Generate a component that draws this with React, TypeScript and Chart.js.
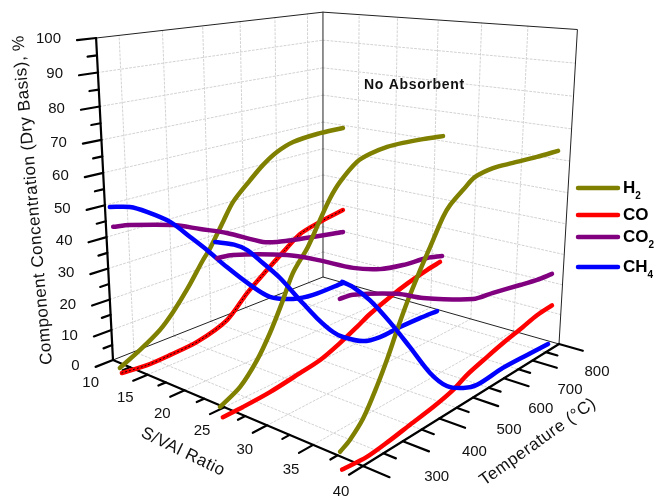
import React, { useEffect, useRef } from "react";
import { Chart, registerables } from "chart.js";
Chart.register(...registerables);

// Readings from the picture: [temperature °C, concentration %]
const S_PLANES = [12.5, 25, 38.5];
const h2Low = [[227,1.1],[275,4.3],[324,8.3],[358,12.6],[397,18.8],[438,26.4],[457,29.5],[494,37.2],[522,42.8],[570,48.5],[608,52.6],[649,55.8],[698,57.9],[773,58.7],[859,58.6]];
const h2Mid = [[240,0.7],[288,3.9],[330,9.7],[363,16.3],[394,24.0],[423,31.9],[463,38.3],[496,45.4],[523,51.0],[551,55.2],[600,60.0],[639,61.4],[691,62.1],[741,62.0],[808,61.4],[878,60.5]];
const h2High = [[232,3.4],[255,5.1],[287,9.0],[320,15.8],[347,22.4],[370,28.8],[397,35.7],[428,42.6],[454,47.9],[488,54.9],[507,57.5],[544,60.5],[579,63.0],[634,63.8],[699,63.3],[782,62.6],[860,62.2]];
const coLow = [[231,-0.8],[290,-1.6],[346,-1.4],[416,-0.7],[498,2.7],[556,9.5],[615,15.1],[670,20.0],[718,24.0],[782,26.0],[860,27.6]];
const coMid = [[246,-2.8],[294,-2.7],[361,-2.2],[440,-0.8],[496,0.3],[553,2.8],[604,5.6],[644,8.0],[708,10.8],[767,12.9],[833,14.6],[880,15.5]];
const coHigh = [[237,-1.9],[297,-2.6],[356,-1.9],[410,-0.9],[474,0.2],[533,1.8],[576,4.0],[640,6.0],[693,7.5],[762,9.1],[813,10.4],[870,10.9]];
const co2Low = [[228,45.7],[265,44.8],[366,40.9],[433,37.0],[503,32.9],[604,25.7],[646,24.0],[717,22.2],[840,19.5],[861,19.1]];
const co2Mid = [[242,44.3],[278,43.7],[408,38.1],[488,33.2],[591,26.1],[674,22.0],[749,20.1],[832,19.0],[887,17.4]];
const co2High = [[230,44.1],[260,43.7],[368,38.8],[438,34.3],[586,26.8],[651,25.6],[744,23.7],[806,22.5],[863,21.9]];
const ch4Low = [[223,51.9],[267,50.3],[305,47.4],[359,42.2],[407,35.4],[449,29.3],[501,21.2],[565,12.0],[623,4.9],[694,0.7],[759,-0.9],[862,-1.0]];
const ch4Mid = [[239,49.0],[281,46.5],[311,43.7],[348,38.3],[390,31.9],[441,22.7],[487,14.6],[533,7.6],[562,4.4],[623,-0.3],[677,-1.8],[743,-1.7],[812,-2.0],[874,-2.5]];
const ch4High = [[235,48.2],[260,45.7],[300,40.4],[351,31.9],[405,22.0],[463,11.2],[514,4.2],[565,0.5],[610,-1.2],[696,-0.8],[783,-1.4],[863,-2.1]];

const OL = "#808000", RD = "#ff0000", PU = "#800080", BL = "#0000ff";
const tLabels = [300,400,500,600,700,800];
const sLabels = [10,15,20,25,30,35,40];
const cLabels = [0,10,20,30,40,50,60,70,80,90,100];
const LEGEND: [string,string,string,number][] = [["H","2",OL,188],["CO","",RD,215],["CO","2",PU,237],["CH","4",BL,267]];

// Perspective camera of the 3D box (canvas pixels of the corners)
const A=[113,360],F=[363,466],R=[559,344],B=[323,277],V=[323.5,4366],AT=[95,38];
const dx1=F[0]-R[0],dy1=F[1]-R[1],dx2=B[0]-R[0],dy2=B[1]-R[1],dx3=A[0]-F[0]+R[0]-B[0],dy3=A[1]-F[1]+R[1]-B[1];
const den=dx1*dy2-dx2*dy1;
const g=(dx3*dy2-dx2*dy3)/den,h=(dx1*dy3-dx3*dy1)/den;
const a=F[0]-A[0]+g*F[0],b=B[0]-A[0]+h*B[0],c0=A[0],d=F[1]-A[1]+g*F[1],e=B[1]-A[1]+h*B[1],f0=A[1];
const fr=(AT[1]-A[1])/(V[1]-A[1]);const al=fr/(1-fr);
function proj(s:number,t:number,c:number){const u=(s-10)/30,v=(t-250)/600,z=c/100;const W=g*u+h*v+1+al*z;
 return {x:(a*u+b*v+c0+al*V[0]*z)/W,y:(d*u+e*v+f0+al*V[1]*z)/W};}
const GAP={x:NaN,y:NaN};
function segs(list:number[][][]){const o:any[]=[];list.forEach(l=>{l.forEach(p=>o.push(proj(p[0],p[1],p[2])));o.push(GAP)});return o;}
const curve=(s:number,pts:number[][])=>pts.map(p=>proj(s,p[0],p[1]));

const gridL:number[][][]=[];
[300,400,500,600,700,800].forEach(t=>{gridL.push([[10,t,0],[10,t,100]]);gridL.push([[10,t,0],[40,t,0]])});
[15,20,25,30,35].forEach(s=>{gridL.push([[s,850,0],[s,850,100]]);gridL.push([[s,250,0],[s,850,0]])});
[10,20,30,40,50,60,70,80,90].forEach(c=>{gridL.push([[10,250,c],[10,850,c]]);gridL.push([[10,850,c],[40,850,c]])});
const frame=[[[10,250,100],[10,850,100],[40,850,100],[40,850,0],[10,850,0],[10,250,0]],[[10,850,0],[10,850,100]]];
const axes=[[[10,250,0],[10,250,100]],[[10,250,0],[40,250,0]],[[40,250,0],[40,850,0]]];
const ticks:number[][][]=[];
for(let i=0;i<=20;i++){const c=i*5;ticks.push([[10,250,c],[10,i%2?230:210,c]])}
for(let i=0;i<=12;i++){const s=10+i*2.5;ticks.push([[s,250,0],[s,i%2?233:217,0]])}
for(let i=0;i<=12;i++){const t=250+i*50;ticks.push([[40,t,0],[i%2?41.2:42.5,t,0]])}

function App(){const ref=useRef<HTMLCanvasElement>(null);
useEffect(()=>{
 const ds:any[]=[];
 const add=(data:any[],col:string,w:number,dash?:number[],tension=0)=>ds.push({data,showLine:true,pointRadius:0,borderColor:col,borderWidth:w,borderDash:dash||[],spanGaps:false,tension,borderCapStyle:"round",borderJoinStyle:"round"});
 add(segs(gridL),"#d2d2d2",1,[2,2]);add(segs(frame),"#222",1);add(segs(axes),"#000",2.2);add(segs(ticks),"#000",2.2);
 const group=[[h2Low,coLow,co2Low,ch4Low],[h2Mid,coMid,co2Mid,ch4Mid],[h2High,coHigh,co2High,ch4High]];
 const cols=[OL,RD,PU,BL];
 group.forEach((g1,i)=>g1.forEach((pts,j)=>{add(curve(S_PLANES[i],pts),cols[j],4.5,undefined,0.3);
   if(i===0&&j===1) add(curve(S_PLANES[i],pts),"#000",1,[1,3],0.3);}));
 ds.forEach((x,i)=>x.order=ds.length-i);
 const labels={id:"l",afterDatasetsDraw(ch:any){const ctx=ch.ctx,sx=ch.scales.x,sy=ch.scales.y;ctx.save();ctx.fillStyle="#111";
  const T=(t:string,x:number,y:number,al:CanvasTextAlign="center")=>{ctx.textAlign=al;ctx.textBaseline="middle";ctx.fillText(t,sx.getPixelForValue(x),sy.getPixelForValue(y))};
  ctx.font='15px "Liberation Sans"';
  cLabels.forEach(c=>{const p=proj(10,210,c);T(String(c),p.x-16,p.y-1,"right")});
  sLabels.forEach(s=>{const p=proj(s,217,0);T(String(s),p.x-8,p.y+17)});
  tLabels.forEach(t=>{const p=proj(42.5,t,0);T(String(t),p.x+27,p.y+13)});
  const rot=(t:string,x:number,y:number,an:number)=>{ctx.save();ctx.translate(x,y);ctx.rotate(an*Math.PI/180);ctx.textAlign="center";ctx.textBaseline="middle";ctx.fillText(t,0,0);ctx.restore()};
  ctx.font='17px "Liberation Sans"';(ctx as any).letterSpacing="0.5px";
  rot("Component Concentration (Dry Basis), %",33,200,-95);
  rot("S/VAl Ratio",183,452,26);
  rot("Temperature (°C)",538,442,-35.5);
  ctx.font='bold 14px "Liberation Sans"';(ctx as any).letterSpacing="0.7px";ctx.textAlign="left";ctx.fillText("No Absorbent",364,85);(ctx as any).letterSpacing="0px";
  LEGEND.forEach(r=>{ctx.strokeStyle=r[2];ctx.lineWidth=4.5;ctx.lineCap="round";ctx.beginPath();ctx.moveTo(578,r[3]);ctx.lineTo(618,r[3]);ctx.stroke();
   ctx.font='bold 17px "Liberation Sans"';ctx.fillStyle="#000";ctx.textAlign="left";ctx.textBaseline="middle";ctx.fillText(r[0],623,r[3]);const w=ctx.measureText(r[0]).width;ctx.font='bold 10px "Liberation Sans"';ctx.fillText(r[1],623+w,r[3]+8)});
  ctx.restore();}};
 const ch=new Chart(ref.current!,{type:"scatter",data:{datasets:ds},plugins:[labels],options:{animation:false,responsive:false,clip:false as any,layout:{padding:0},plugins:{legend:{display:false},tooltip:{enabled:false}},scales:{x:{type:"linear",display:false,min:0,max:655},y:{type:"linear",display:false,min:0,max:499,reverse:true}}}} as any);
 return()=>ch.destroy();
},[]);
return <div style={{position:"absolute",left:0,top:0,width:655,height:499,background:"#fff"}}><canvas ref={ref} width={655} height={499} style={{display:"block"}}/></div>;}
export default App;
